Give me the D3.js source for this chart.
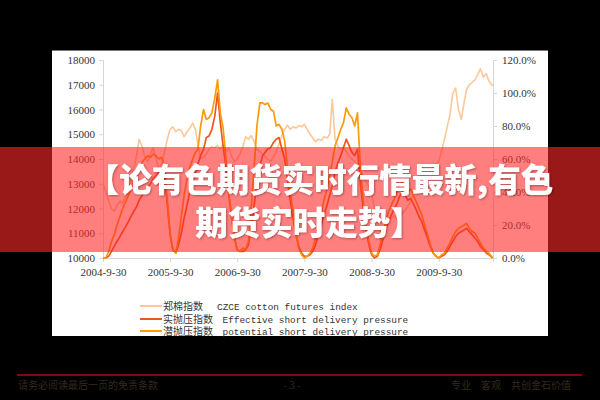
<!DOCTYPE html>
<html><head><meta charset="utf-8">
<script src="https://cdn.jsdelivr.net/npm/d3@7"></script>
<style>html,body{margin:0;padding:0;background:#000;} svg{display:block}</style>
</head><body>
<svg id="c" width="600" height="400"></svg>
<script>
// ---------- data ----------
const dates = [
"2004-09-30","2004-10-15","2004-10-31","2004-11-15","2004-11-30","2004-12-15","2004-12-31","2005-01-15","2005-01-31","2005-02-15",
"2005-02-28","2005-03-15","2005-03-31","2005-04-15","2005-04-30","2005-05-15","2005-05-31","2005-06-15","2005-06-30","2005-07-15",
"2005-07-31","2005-08-15","2005-08-31","2005-09-15","2005-09-30","2005-10-15","2005-10-31","2005-11-15","2005-11-30","2005-12-15",
"2005-12-31","2006-01-15","2006-01-31","2006-02-15","2006-02-28","2006-03-15","2006-03-31","2006-04-15","2006-04-30","2006-05-15",
"2006-05-31","2006-06-15","2006-06-30","2006-07-15","2006-07-31","2006-08-15","2006-08-31","2006-09-15","2006-09-30","2006-10-15",
"2006-10-31","2006-11-15","2006-11-30","2006-12-15","2006-12-31","2007-01-15","2007-01-31","2007-02-15","2007-02-28","2007-03-15",
"2007-03-31","2007-04-15","2007-04-30","2007-05-15","2007-05-31","2007-06-15","2007-06-30","2007-07-15","2007-07-31","2007-08-15",
"2007-08-31","2007-09-15","2007-09-30","2007-10-15","2007-10-31","2007-11-15","2007-11-30","2007-12-15","2007-12-31","2008-01-15",
"2008-01-31","2008-02-15","2008-02-29","2008-03-15","2008-03-31","2008-04-15","2008-04-30","2008-05-15","2008-05-31","2008-06-15",
"2008-06-30","2008-07-15","2008-07-31","2008-08-15","2008-08-31","2008-09-15","2008-09-30","2008-10-15","2008-10-31","2008-11-15",
"2008-11-30","2008-12-15","2008-12-31","2009-01-15","2009-01-31","2009-02-15","2009-02-28","2009-03-15","2009-03-31","2009-04-15",
"2009-04-30","2009-05-15","2009-05-31","2009-06-15","2009-06-30","2009-07-15","2009-07-31","2009-08-15","2009-08-31","2009-09-15",
"2009-09-30","2009-10-15","2009-10-31","2009-11-15","2009-11-30","2009-12-15","2009-12-31","2010-01-15","2010-01-31","2010-02-15",
"2010-02-28","2010-03-15","2010-03-31","2010-04-15","2010-04-30","2010-05-15","2010-05-31","2010-06-15","2010-06-30","2010-07-20"];

const cottonIndex = [
13000,12700,12300,12000,11900,12100,12300,12200,12500,12800,
13100,13600,14100,14800,14500,14100,13900,14200,14450,14000,
13600,13800,14300,14800,15200,15300,15100,15200,15150,14900,
15100,15250,15450,15200,14600,14000,14100,14200,14400,14500,
14450,14550,14400,14600,14300,14450,14100,13900,14000,14200,
14500,14900,14800,14950,14700,14400,14300,14200,14100,14000,
13900,14100,14300,14600,14950,15200,15370,15200,15300,15250,
15350,15300,15400,15200,15000,14850,14700,14800,14750,14900,
14850,15000,16400,14800,14500,14400,14500,14300,14100,14000,
13900,13700,13600,13300,13100,12900,12600,12000,11500,11100,
10900,11200,11500,11600,11700,11600,11500,11800,11900,12100,
12300,12600,12800,13000,13100,13400,13600,13500,13700,13800,
13900,14300,14800,15300,15800,16650,16870,16000,15600,16300,
16800,17000,17100,17200,17400,17650,17300,17450,17150,16950];

const effectivePressure = [
0,0,1,4,7,10,13,16,19,22,
25,28,31,35,38,40,43,45,48,50,
52,54,50,32,14,5,3,8,15,24,
32,40,46,52,57,62,66,73,74,78,
86,100,82,68,55,38,24,12,5,4,
4,5,8,18,32,45,56,62,64,66,
67,70,72,73,66,60,48,35,24,14,
7,3,1,1,2,4,8,14,20,26,
32,38,44,52,58,62,67,72,68,64,
62,66,45,30,17,8,2,0,1,5,
11,17,22,26,30,33,37,40,38,35,
36,33,29,25,22,17,12,7,3,1,
0,1,2,4,7,10,13,15,16,17,
18,16,14,12,10,7,5,3,2,0];

const potentialPressure = [
0,0,4,10,14,20,25,30,34,38,
42,47,50,55,58,60,62,61,63,62,
60,61,55,35,15,5,3,12,25,38,
48,55,60,64,66,80,90,84,85,88,
97,108,88,79,60,40,25,12,5,4,
6,5,10,30,55,80,94,94,93,94,
90,89,80,81,78,71,55,40,28,15,
6,2,0,1,3,6,12,20,28,35,
42,50,58,68,73,78,82,91,87,85,
80,88,55,35,20,10,3,1,2,8,
15,22,28,32,36,40,44,46,43,40,
42,38,34,30,26,20,14,8,3,1,
0,2,3,6,9,13,16,18,19,20,
21,18,16,15,12,9,6,4,3,0];

const leftTicks = [10000,11000,12000,13000,14000,15000,16000,17000,18000];
const rightTicks = [0,20,40,60,80,100,120];
const xTickLabels = ["2004-9-30","2005-9-30","2006-9-30","2007-9-30","2008-9-30","2009-9-30"];
const legendCn = ["郑棉指数","实抛压指数","潜抛压指数"];
const legendEn = ["CZCE cotton futures index","Effective short delivery pressure","potential short delivery pressure"];
const seriesColors = ["#FCC89A","#F0571E","#FF9A0A"];
const bannerLines = ["【论有色期货实时行情最新,有色","期货实时走势】"];
const footerLeft = "请务必阅读最后一页的免责条款";
const footerCenter = "- 3 -";
const footerRight = "专业　客观　共创金石价值";

// ---------- drawing ----------
const svg = d3.select("#c");
const parse = d3.timeParse("%Y-%m-%d");
const dts = dates.map(parse);

svg.append("rect").attr("width",600).attr("height",400).attr("fill","#000");
svg.append("rect").attr("x",52).attr("y",50).attr("width",496).attr("height",286)
  .attr("fill","#fff");
svg.append("line").attr("x1",52).attr("x2",548).attr("y1",50.5).attr("y2",50.5)
  .attr("stroke","#777").attr("stroke-width",1);

const x = d3.scaleTime().domain([parse("2004-09-30"), parse("2010-07-22")]).range([103,493]);
const yL = d3.scaleLinear().domain([10000,18000]).range([258,60]);
const yR = d3.scaleLinear().domain([0,120]).range([258,60]);

function styleAxis(g){
  g.selectAll("path.domain").attr("stroke","#d6d6d6").attr("stroke-width",1);
  g.selectAll(".tick line").attr("stroke","#d6d6d6");
  g.selectAll("text").attr("fill","#333").style("font-family","'Liberation Serif', serif").style("font-size","11px");
}

svg.append("g").attr("transform","translate(103,0)")
  .call(d3.axisLeft(yL).tickValues(leftTicks).tickSize(4).tickPadding(4).tickFormat(d3.format("d")))
  .call(styleAxis);

svg.append("g").attr("transform","translate(493,0)")
  .call(d3.axisRight(yR).tickValues(rightTicks).tickSize(4).tickPadding(5).tickFormat(d=>d3.format(".1f")(d)+"%"))
  .call(styleAxis);

const xTickDates = xTickLabels.map(s=>d3.timeParse("%Y-%m-%d")(s));
svg.append("g").attr("transform","translate(0,258)")
  .call(d3.axisBottom(x).tickValues(xTickDates).tickSize(4).tickPadding(6)
        .tickFormat((d,i)=>xTickLabels[i]))
  .call(styleAxis);

const mkLine = (vals, sc) => d3.line().x((d,i)=>x(dts[i])).y(d=>sc(d))(vals);

svg.append("path").attr("d",mkLine(cottonIndex,yL)).attr("fill","none")
  .attr("stroke",seriesColors[0]).attr("stroke-width",1.6).attr("stroke-linejoin","round");
svg.append("path").attr("d",mkLine(effectivePressure,yR)).attr("fill","none")
  .attr("stroke",seriesColors[1]).attr("stroke-width",1.7).attr("stroke-linejoin","round");
svg.append("path").attr("d",mkLine(potentialPressure,yR)).attr("fill","none")
  .attr("stroke",seriesColors[2]).attr("stroke-width",1.7).attr("stroke-linejoin","round");

// legend
const legY = [306,319,331];
const enX = [217,222.5,222.5];
legendCn.forEach((cn,i)=>{
  svg.append("line").attr("x1",140).attr("x2",162).attr("y1",legY[i]).attr("y2",legY[i])
    .attr("stroke",seriesColors[i]).attr("stroke-width",2);
  const t = svg.append("text").attr("y",legY[i]+4).attr("fill","#333");
  t.append("tspan").attr("x",163).style("font-family","'Noto Sans CJK SC'").style("font-size","10px").text(cn);
  t.append("tspan").attr("x",enX[i]).style("font-family","'Liberation Mono', monospace").style("font-size","9.4px").text(legendEn[i]);
});

// footer
svg.append("line").attr("x1",17).attr("x2",582).attr("y1",375).attr("y2",375)
  .attr("stroke","#7a0b0b").attr("stroke-width",2);
svg.append("text").attr("x",18).attr("y",389).attr("fill","#35291a").style("font-family","'Noto Sans CJK SC'").style("font-size","10px").text(footerLeft);
svg.append("text").attr("x",292).attr("y",389).attr("text-anchor","middle").attr("fill","#35291a").style("font-family","'Noto Sans CJK SC'").style("font-size","10px").text(footerCenter);
svg.append("text").attr("x",571).attr("y",389).attr("text-anchor","end").attr("fill","#35291a").style("font-family","'Noto Sans CJK SC'").style("font-size","10px").text(footerRight);

// banner
const defs = svg.append("defs");
const f = defs.append("filter").attr("id","sh").attr("x","-5%").attr("y","-20%").attr("width","110%").attr("height","140%");
f.append("feDropShadow").attr("dx",1).attr("dy",1).attr("stdDeviation",1).attr("flood-color","#000").attr("flood-opacity",0.35);

svg.append("rect").attr("x",0).attr("y",147).attr("width",600).attr("height",105)
  .attr("fill","rgba(255,40,40,0.6)");
const by = [192,235];
const bx = [320,309];
bannerLines.forEach((s,i)=>{
  svg.append("text").attr("x",bx[i]).attr("y",by[i]).attr("text-anchor","middle")
    .attr("fill","#fff").attr("filter","url(#sh)")
    .style("font-family","'Noto Sans CJK SC'").style("font-weight","900").style("font-size","32.5px")
    .text(s);
});
</script>
</body></html>
